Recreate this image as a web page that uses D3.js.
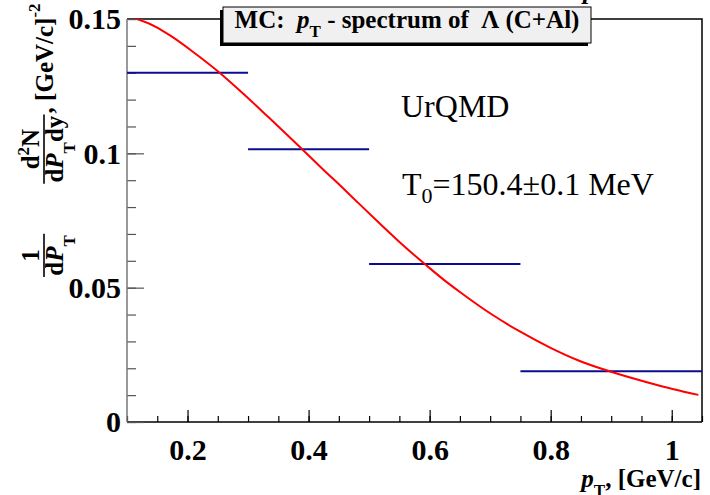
<!DOCTYPE html>
<html>
<head>
<meta charset="utf-8">
<script src="https://cdn.jsdelivr.net/npm/d3@7"></script>
<style>
  html, body { margin: 0; padding: 0; background: #fff; }
  svg { display: block; }
  text { font-family: "Liberation Serif", "Times New Roman", serif; white-space: pre; }
</style>
</head>
<body>
<svg id="chart" width="710" height="495"></svg>
<script>
// Lambda pT spectrum (C+Al), UrQMD Monte Carlo, with thermal fit
const binEdges = [0.1, 0.3, 0.5, 0.75, 1.05];
const binValues = [0.130, 0.1015, 0.0588, 0.0189];

// fitted curve, sampled along pT
const fitPt  = [0.100, 0.118, 0.150, 0.173, 0.206, 0.252, 0.294, 0.333, 0.380, 0.424, 0.457, 0.485, 0.518, 0.557, 0.592, 0.623, 0.650, 0.703, 0.749, 0.799, 0.848, 0.901, 0.959, 1.003, 1.044];
const fitVal = [0.1510, 0.1499, 0.1468, 0.1436, 0.1383, 0.1302, 0.1218, 0.1136, 0.1036, 0.0940, 0.0870, 0.0809, 0.0738, 0.0656, 0.0588, 0.0530, 0.0484, 0.0400, 0.0337, 0.0277, 0.0227, 0.0186, 0.0148, 0.0122, 0.0101];

const xMajorTicks = [0.2, 0.4, 0.6, 0.8, 1.0];
const xMajorLabels = ["0.2", "0.4", "0.6", "0.8", "1"];
const xMinorTicks = d3.range(0.1, 1.0501, 0.05).map(v => +v.toFixed(2));
const yMajorTicks = [0, 0.05, 0.1, 0.15];
const yMajorLabels = ["0", "0.05", "0.1", "0.15"];
const yMinorTicks = d3.range(0, 0.1501, 0.01).map(v => +v.toFixed(2));

const titleText = ["MC:  ", "p", "T", " - spectrum of  \u039B (C+Al)"];
const modelText = "UrQMD";
const tempText = ["T", "0", "=150.4\u00B10.1 MeV"];

const frame = { left: 127, right: 702, top: 19, bottom: 422 };
const svg = d3.select("#chart");

const x = d3.scaleLinear().domain([0.1, 1.05]).range([frame.left, frame.right]);
const y = d3.scaleLinear().domain([0, 0.15]).range([frame.bottom, frame.top]);

svg.append("defs").append("clipPath").attr("id", "plotClip")
  .append("rect")
  .attr("x", frame.left).attr("y", frame.top)
  .attr("width", frame.right - frame.left).attr("height", frame.bottom - frame.top);

// frame: top and right edges
svg.append("path")
  .attr("d", `M${frame.left},${frame.top}H${frame.right}V${frame.bottom}`)
  .attr("fill", "none").attr("stroke", "#000").attr("stroke-width", 1.5);

// x axis: minor and major ticks point into the frame
const xMinor = svg.append("g").attr("transform", `translate(0,${frame.bottom})`)
  .call(d3.axisBottom(x).tickValues(xMinorTicks).tickSize(-6).tickFormat(""));
const xMajor = svg.append("g").attr("transform", `translate(0,${frame.bottom})`)
  .call(d3.axisBottom(x).tickValues(xMajorTicks).tickSize(-12).tickPadding(17)
    .tickFormat((d, i) => xMajorLabels[i]));
[xMinor, xMajor].forEach(g => {
  g.select(".domain").remove();
  g.selectAll("line").attr("stroke", "#000").attr("stroke-width", 1.2);
});
xMajor.selectAll("text")
  .attr("font-size", 30).attr("font-weight", "bold").attr("fill", "#000")
  .attr("font-family", "Liberation Serif, Times New Roman, serif");
svg.append("line")
  .attr("x1", frame.left).attr("x2", frame.right)
  .attr("y1", frame.bottom).attr("y2", frame.bottom)
  .attr("stroke", "#000").attr("stroke-width", 1.5);

// y axis
const yMinor = svg.append("g").attr("transform", `translate(${frame.left},0)`)
  .call(d3.axisLeft(y).tickValues(yMinorTicks).tickSize(-9).tickFormat(""));
const yMajor = svg.append("g").attr("transform", `translate(${frame.left},0)`)
  .call(d3.axisLeft(y).tickValues(yMajorTicks).tickSize(-17).tickPadding(6)
    .tickFormat((d, i) => yMajorLabels[i]));
[yMinor, yMajor].forEach(g => {
  g.select(".domain").remove();
  g.selectAll("line").attr("stroke", "#555").attr("stroke-width", 1.2);
});
yMajor.selectAll("text")
  .attr("font-size", 30).attr("font-weight", "bold").attr("fill", "#000")
  .attr("font-family", "Liberation Serif, Times New Roman, serif")
  .attr("dy", "0.33em");
svg.append("line")
  .attr("x1", frame.left).attr("x2", frame.left)
  .attr("y1", frame.top).attr("y2", frame.bottom)
  .attr("stroke", "#777").attr("stroke-width", 1.5);

// histogram bins
const plot = svg.append("g").attr("clip-path", "url(#plotClip)");
plot.selectAll("line.bin").data(binValues).join("line")
  .attr("class", "bin")
  .attr("x1", (d, i) => x(binEdges[i])).attr("x2", (d, i) => x(binEdges[i + 1]))
  .attr("y1", d => y(d)).attr("y2", d => y(d))
  .attr("stroke", "#0c0c90").attr("stroke-width", 2);

// fit curve
const fitLine = d3.line().x(d => x(d[0])).y(d => y(d[1])).curve(d3.curveMonotoneX);
plot.append("path")
  .datum(fitPt.map((p, i) => [p, fitVal[i]]))
  .attr("d", fitLine)
  .attr("fill", "none").attr("stroke", "#ff0000").attr("stroke-width", 2);

// helper: text made of runs; each run may be italic, subscript or superscript.
// Relative dy shifts keep the whole string in one anchored chunk.
function runs(parent, px, py, parts, opts) {
  const t = parent.append("text")
    .attr("x", px).attr("y", py)
    .attr("font-size", opts.size)
    .attr("font-weight", opts.weight || "normal")
    .attr("text-anchor", opts.anchor || "start")
    .attr("fill", "#000");
  let cur = 0;
  parts.forEach(p => {
    const s = t.append("tspan").text(p.t);
    let shift = 0;
    if (p.sub) { s.attr("font-size", opts.subSize); shift = opts.subDrop; }
    if (p.sup) { s.attr("font-size", opts.subSize); shift = -opts.supRise; }
    if (p.italic) s.attr("font-style", "italic");
    s.attr("dy", shift - cur);
    cur = shift;
  });
  return t;
}

// title box with shadow
const box = { x0: 223, x1: 591, y0: 7, y1: 43 };
svg.append("rect")
  .attr("x", box.x0 - 3).attr("y", box.y0 + 3)
  .attr("width", box.x1 - box.x0).attr("height", box.y1 - box.y0)
  .attr("fill", "#000");
svg.append("rect")
  .attr("x", box.x0).attr("y", box.y0)
  .attr("width", box.x1 - box.x0).attr("height", box.y1 - box.y0)
  .attr("fill", "#f0f0f0").attr("stroke", "#000").attr("stroke-width", 1);
runs(svg, (box.x0 + box.x1) / 2, 28, [
  { t: titleText[0] }, { t: titleText[1], italic: true }, { t: titleText[2], sub: true }, { t: titleText[3] }
], { size: 25, weight: "bold", anchor: "middle", subSize: 17, subDrop: 9 });

// piece of a glyph cut by the top edge
svg.append("text").attr("x", 583).attr("y", -1)
  .attr("font-size", 26).attr("font-weight", "bold").attr("font-style", "italic")
  .attr("fill", "#000").text("p");

// annotations
svg.append("text").attr("x", 401).attr("y", 117)
  .attr("font-size", 32).attr("fill", "#000").text(modelText);
runs(svg, 402, 195, [
  { t: tempText[0] }, { t: tempText[1], sub: true }, { t: tempText[2] }
], { size: 32, subSize: 22, subDrop: 8 });

// x axis title
runs(svg, 701, 487, [
  { t: "p", italic: true }, { t: "T", sub: true }, { t: ", [GeV/c]" }
], { size: 25, weight: "bold", anchor: "end", subSize: 17, subDrop: 9 });

// y axis title: 1/dP_T  d2N/(dP_T dy), [GeV/c]^-2
const yt = svg.append("g").attr("transform", "translate(44,278) rotate(-90)");
const yOpts = { size: 25, weight: "bold", subSize: 17, subDrop: 12, supRise: 10 };
const numBase = -5, denBase = 19;

function fraction(startX, numParts, denParts) {
  const num = runs(yt, 0, numBase, numParts, yOpts);
  const den = runs(yt, 0, denBase, denParts, yOpts);
  const wN = num.node().getBBox().width, wD = den.node().getBBox().width;
  const w = Math.max(wN, wD) + 2;
  const cx = startX + w / 2;
  num.attr("text-anchor", "middle").attr("x", cx);
  den.attr("text-anchor", "middle").attr("x", cx);
  yt.append("line").attr("x1", startX).attr("x2", startX + w)
    .attr("y1", 0).attr("y2", 0).attr("stroke", "#000").attr("stroke-width", 1.6);
  return startX + w;
}
const f1End = fraction(1, [{ t: "1" }],
  [{ t: "d" }, { t: "P", italic: true }, { t: "T", sub: true }]);
const f2End = fraction(f1End + 50, [{ t: "d" }, { t: "2", sup: true }, { t: "N" }],
  [{ t: "d" }, { t: "P", italic: true }, { t: "T", sub: true }, { t: "dy" }]);
runs(yt, f2End + 1, 9, [{ t: ", [GeV/c]" }, { t: "-2", sup: true }],
  { size: 25, weight: "bold", subSize: 17, supRise: 13 });
</script>
</body>
</html>
